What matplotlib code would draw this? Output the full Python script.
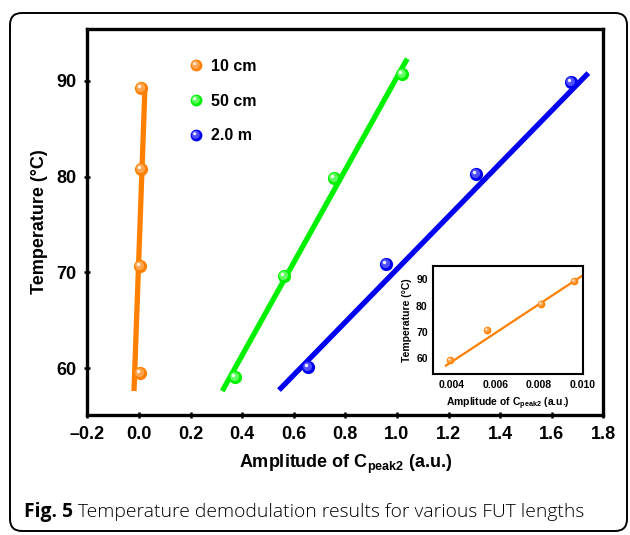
import numpy as np
import matplotlib
matplotlib.use("Agg")
import matplotlib.pyplot as plt
from matplotlib.path import Path
from matplotlib.patches import FancyBboxPatch
from matplotlib.lines import Line2D
from matplotlib.legend_handler import HandlerTuple

plt.rcParams['font.family'] = ['Liberation Sans', 'DejaVu Sans']
plt.rcParams['mathtext.fontset'] = 'custom'
plt.rcParams['mathtext.rm'] = 'Liberation Sans'
plt.rcParams['mathtext.bf'] = 'Liberation Sans:bold'
plt.rcParams['mathtext.it'] = 'Liberation Sans:italic'

# ---------------- data ----------------
temps_10cm = [59.5, 70.7, 80.8, 89.2]
amp_10cm = [0.0039, 0.0056, 0.0081, 0.0096]
temps_50cm = [59.1, 69.6, 79.8, 90.7]
amp_50cm = [0.372, 0.564, 0.756, 1.019]
temps_2m = [60.1, 70.9, 80.3, 89.9]
amp_2m = [0.654, 0.958, 1.307, 1.675]

fit10_x = [-0.019, 0.0236]
fit10_y = [57.6, 89.4]
fit50_x = [0.323, 1.040]
fit50_y = [57.6, 92.3]
fit2m_x = [0.543, 1.742]
fit2m_y = [57.7, 90.8]
inset_fit_x = [0.00373, 0.0100]
inset_fit_y = [57.2, 91.5]

labels = ['10 cm', '50 cm', '2.0 m']
colors = ['#FF8000', '#00F000', '#0000F0']
mids = ['#FFA550', '#60FF60', '#5050FF']
highlights = ['#FFF0E0', '#F0FFF0', '#F0F0FF']
xticks = [-0.2, 0.0, 0.2, 0.4, 0.6, 0.8, 1.0, 1.2, 1.4, 1.6, 1.8]
yticks = [60, 70, 80, 90]
inset_xticks = [0.004, 0.006, 0.008, 0.010]
inset_yticks = [60, 70, 80, 90]
caption_bold = 'Fig. 5'
caption_text = ' Temperature demodulation results for various FUT lengths'


def offset_circle(cx, cy, r):
    """Circle marker path in marker units (full marker = radius 0.5)."""
    c = Path.circle(center=(cx, cy), radius=r)
    verts = np.vstack([[[0.5, 0.5]], [[-0.5, -0.5]], c.vertices])
    codes = np.concatenate([[Path.MOVETO, Path.MOVETO], c.codes])
    return Path(verts, codes)


mid_marker = offset_circle(-0.07, 0.07, 0.34)
hl_marker = offset_circle(-0.15, 0.15, 0.13)

fig = plt.figure(figsize=(6.30, 5.35), dpi=100)

# outer rounded frame
box = FancyBboxPatch((0.10, 0.04), 6.17, 5.18,
                     boxstyle="round,pad=0,rounding_size=0.12",
                     transform=fig.dpi_scale_trans, fill=False,
                     edgecolor='black', linewidth=1.4)
fig.patches.append(box)

ax = fig.add_axes([87.3 / 630, (535 - 415) / 535, 516 / 630, 386 / 535])


def sphere(a, xs, ys, ms, c, m, h, z=3):
    a.plot(xs, ys, ls='none', marker='o', ms=ms, mfc=c, mec=c, mew=0, zorder=z)
    a.plot(xs, ys, ls='none', marker=mid_marker, ms=ms, mfc=m, mec='none', mew=0, zorder=z + 0.1)
    a.plot(xs, ys, ls='none', marker=hl_marker, ms=ms, mfc=h, mec='none', mew=0, zorder=z + 0.2)


ms = 9.5
lw = 3.8
series = [(amp_10cm, temps_10cm, fit10_x, fit10_y),
          (amp_50cm, temps_50cm, fit50_x, fit50_y),
          (amp_2m, temps_2m, fit2m_x, fit2m_y)]
handles = []
for (xs, ys, fx, fy), c, m, h in zip(series, colors, mids, highlights):
    ax.plot(fx, fy, color=c, lw=lw, solid_capstyle='butt', zorder=2)
    sphere(ax, xs, ys, ms, c, m, h)
    l1 = Line2D([], [], ls='none', marker='o', ms=8.5, mfc=c, mec=c, mew=0)
    l2 = Line2D([], [], ls='none', marker=mid_marker, ms=8.5, mfc=m, mec='none', mew=0)
    l3 = Line2D([], [], ls='none', marker=hl_marker, ms=8.5, mfc=h, mec='none', mew=0)
    handles.append((l1, l2, l3))

leg = ax.legend(handles, labels, handler_map={tuple: HandlerTuple(ndivide=1, pad=0)},
                loc='upper left', bbox_to_anchor=(0.185, 0.94), frameon=False,
                prop={'weight': 'bold', 'size': 11.5}, labelspacing=1.25,
                handlelength=0.9, handletextpad=0.45, borderaxespad=0)

ax.set_xlim(-0.2, 1.8)
ax.set_ylim(55.1, 95.4)
ax.set_xticks(xticks)
ax.set_yticks(yticks)
ax.set_xticklabels([f'{v:.1f}'.replace('-', '\u2013') for v in xticks])
for sp in ax.spines.values():
    sp.set_linewidth(2.4)
ax.tick_params(direction='inout', length=4, width=1.8, labelsize=13, pad=6)
for t in ax.get_xticklabels() + ax.get_yticklabels():
    t.set_fontweight('bold')
ax.set_xlabel(r'Amplitude of C$_{\mathbf{peak2}}$ (a.u.)', fontsize=13,
              fontweight='bold', labelpad=7)
ax.set_ylabel('Temperature (\u00b0C)', fontsize=13, fontweight='bold', labelpad=6)

# inset
axi = fig.add_axes([433.3 / 630, (535 - 374) / 535, 149.4 / 630, 108.3 / 535])
axi.plot(inset_fit_x, inset_fit_y, color=colors[0], lw=1.6, zorder=2)
sphere(axi, amp_10cm, temps_10cm, 5.5, colors[0], mids[0], highlights[0])
axi.set_xlim(0.00315, 0.0100)
axi.set_ylim(54.0, 95.2)
axi.set_xticks(inset_xticks)
axi.set_yticks(inset_yticks)
axi.set_xticklabels([f'{v:.3f}' for v in inset_xticks])
for sp in axi.spines.values():
    sp.set_linewidth(1.5)
axi.tick_params(direction='in', length=0, labelsize=7.5, pad=4)
for t in axi.get_xticklabels() + axi.get_yticklabels():
    t.set_fontweight('bold')
axi.set_xlabel(r'Amplitude of C$_{\mathbf{peak2}}$ (a.u.)', fontsize=7.5,
               fontweight='bold', labelpad=4)
axi.set_ylabel('Temperature (\u00b0C)', fontsize=7.5, fontweight='bold', labelpad=3)

# caption
cap_font = ['Open Sans', 'DejaVu Sans']
t1 = fig.text(24 / 630, 1 - 512 / 535, caption_bold, fontsize=13.9, fontweight='bold',
              family=cap_font, va='center', ha='left')
fig.canvas.draw()
bb = t1.get_window_extent()
fig.text(bb.x1 / 630, 1 - 512 / 535, caption_text, fontsize=13.9, fontweight='light',
         family=cap_font, va='center', ha='left')

fig.savefig('out.png', dpi=100)
